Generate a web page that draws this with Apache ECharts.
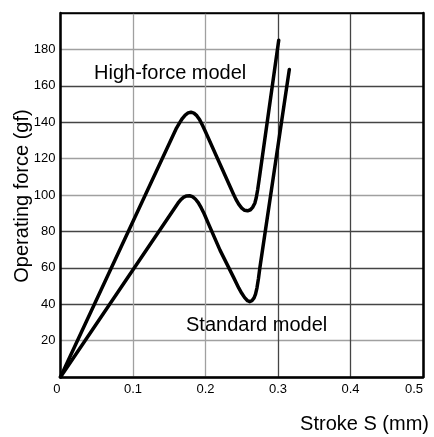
<!DOCTYPE html>
<html>
<head>
<meta charset="utf-8">
<script src="https://cdn.jsdelivr.net/npm/echarts@6/dist/echarts.min.js"></script>
<style>html,body{margin:0;padding:0;background:#fff;}#chart{width:434px;height:437px;}</style>
</head>
<body>
<div id="chart"></div>
<script>
// Stroke (mm) / operating force (gf)
const highForceStroke = [0, 0.16, 0.164, 0.168, 0.172, 0.176, 0.18, 0.184, 0.188, 0.192, 0.196, 0.2, 0.234, 0.238, 0.242, 0.246, 0.25, 0.254, 0.258, 0.262, 0.265, 0.268, 0.27, 0.272, 0.274, 0.301];
const highForceForce  = [0, 136.8, 139.5, 142, 143.9, 145.1, 145.5, 145, 143.6, 141.3, 138.2, 134.8, 104.5, 101, 97.6, 94.8, 92.8, 91.6, 91.3, 91.9, 93.2, 95.5, 98.5, 103, 108.5, 185];
const standardStroke = [0, 0.162, 0.166, 0.17, 0.174, 0.178, 0.182, 0.186, 0.19, 0.194, 0.198, 0.204, 0.22, 0.2384, 0.246, 0.25, 0.254, 0.258, 0.261, 0.264, 0.267, 0.269, 0.271, 0.273, 0.275, 0.3156];
const standardForce  = [0, 95.5, 97.5, 98.8, 99.5, 99.6, 99.1, 97.8, 95.8, 93, 89.8, 84.3, 69.7, 55, 48.8, 46, 43.6, 41.9, 41.4, 41.9, 43.5, 45.5, 49, 54, 60, 169];
const xTicks = [0, 0.1, 0.2, 0.3, 0.4, 0.5];
const yTickLabels = [20, 40, 60, 80, 100, 120, 140, 160, 180];
const seriesNames = ['High-force model', 'Standard model'];
const xAxisTitle = 'Stroke S (mm)';
const yAxisTitle = 'Operating force (gf)';

const FONT = 'Liberation Sans, Arial, sans-serif';
const pairs = (xs, ys) => xs.map((x, i) => [x, ys[i]]);

const chart = echarts.init(document.getElementById('chart'), null, {renderer: 'canvas'});
chart.setOption({
  animation: false,
  backgroundColor: '#fff',
  grid: {left: 60.5, right: 11, top: 13, bottom: 60, containLabel: false, outerBoundsMode: 'none'},
  xAxis: [{
    type: 'value', min: 0, max: 0.5, interval: 0.1,
    axisLine: {show: true, lineStyle: {color: '#000', width: 2.5}},
    axisTick: {show: false},
    axisLabel: {color: '#000', fontFamily: FONT, fontSize: 13, margin: 6,
      alignMinLabel: 'right', alignMaxLabel: 'right',
      formatter: v => xTicks.includes(Math.round(v * 10) / 10) ? String(Math.round(v * 10) / 10) : ''},
    splitLine: {show: true, lineStyle: {color: ['#000', '#a0a0a0', '#a0a0a0', '#444', '#444', '#000'], width: 1.3}}
  }, {
    type: 'value', min: 0, max: 0.5, interval: 0.1, position: 'top',
    axisLine: {show: true, onZero: false, lineStyle: {color: '#000', width: 1.5}},
    axisTick: {show: false}, axisLabel: {show: false}, splitLine: {show: false}
  }],
  yAxis: [{
    type: 'value', min: 0, max: 200, interval: 20,
    axisLine: {show: true, lineStyle: {color: '#000', width: 2.5}},
    axisTick: {show: false},
    axisLabel: {color: '#000', fontFamily: FONT, fontSize: 13, margin: 5,
      formatter: v => yTickLabels.includes(v) ? String(v) : ''},
    splitLine: {show: true, lineStyle: {color: ['#000', '#a0a0a0', '#444', '#444', '#444', '#a0a0a0', '#a0a0a0', '#444', '#444', '#a0a0a0', '#000'], width: 1.3}}
  }, {
    type: 'value', min: 0, max: 200, interval: 20, position: 'right',
    axisLine: {show: true, onZero: false, lineStyle: {color: '#000', width: 2.5}},
    axisTick: {show: false}, axisLabel: {show: false}, splitLine: {show: false}
  }],
  series: [{
    name: seriesNames[0], type: 'line', data: pairs(highForceStroke, highForceForce),
    showSymbol: false, smooth: false,
    lineStyle: {color: '#000', width: 3.5, join: 'round', cap: 'round'}, z: 5
  }, {
    name: seriesNames[1], type: 'line', data: pairs(standardStroke, standardForce),
    showSymbol: false, smooth: false,
    lineStyle: {color: '#000', width: 3.5, join: 'round', cap: 'round'}, z: 5
  }],
  graphic: [
    {type: 'text', left: 94, top: 63, z: 10, style: {text: seriesNames[0], fill: '#000', font: '20px ' + FONT}},
    {type: 'text', left: 186, top: 315, z: 10, style: {text: seriesNames[1], fill: '#000', font: '20px ' + FONT}},
    {type: 'text', right: 5, top: 414, z: 10, style: {text: xAxisTitle, fill: '#000', font: '20px ' + FONT}},
    {type: 'text', x: 22, y: 196, rotation: Math.PI / 2, z: 10,
      style: {text: yAxisTitle, fill: '#000', font: '20px ' + FONT, align: 'center', verticalAlign: 'middle'}}
  ]
});
</script>
</body>
</html>
